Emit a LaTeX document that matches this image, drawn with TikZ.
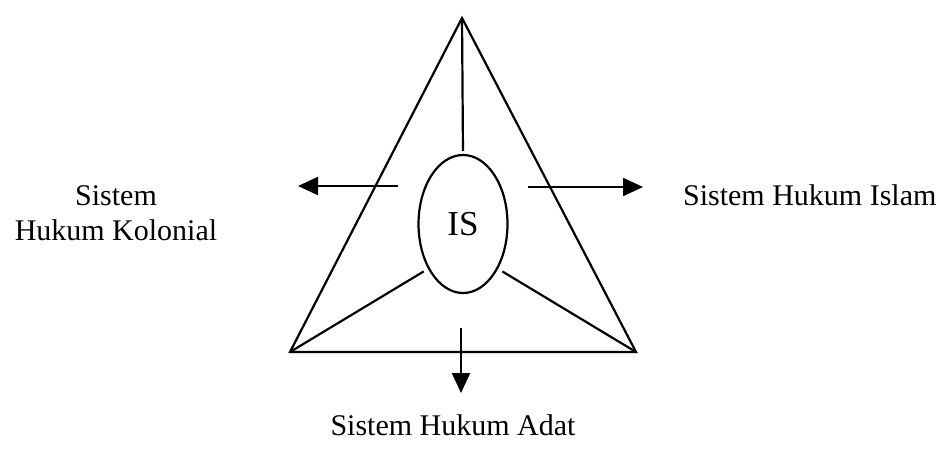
\documentclass[tikz,border=0pt]{standalone}
\usepackage{fontspec}
\setmainfont{Liberation Serif}
\usetikzlibrary{arrows.meta,positioning,shapes.geometric}

\begin{document}
\begin{tikzpicture}[
  x=0.5pt,y=-0.5pt,line width=1.1pt,
  lbl/.style={font=\fontsize{15}{17.5}\selectfont,inner sep=0pt,align=center},
  arr/.style={-{Triangle[length=10pt,width=9pt]}},
  tie/.style={shorten >=2.5pt}
]
  \useasboundingbox (0,0) rectangle (940,471);
  % segitiga
  \coordinate (top) at (462,18);
  \coordinate (bl) at (290,352);
  \coordinate (br) at (636,352);
  \draw[line join=miter] (top) -- (bl) -- (br) -- cycle;
  % inti
  \node[ellipse,draw,minimum width=44.5pt,minimum height=69pt,inner sep=0pt,
        font=\fontsize{17.5}{20}\selectfont] (is) at (463,224) {IS};
  \draw[shorten >=1.5pt] (top) -- (is.north);
  \draw[tie] (bl) -- (is.232);
  \draw[tie] (br) -- (is.308);
  % label
  \node[lbl] (kol) at (116,213.5) {Sistem\\Hukum Kolonial};
  \node[lbl,anchor=base west] (isl) at (682,205) {Sistem Hukum Islam};
  \node[lbl,anchor=base] (adat) at (453,435) {Sistem Hukum Adat};
  % panah
  \coordinate (kolA) at (398,186);
  \coordinate (kolB) at (298,186);
  \coordinate (islA) at (528,187);
  \coordinate (islB) at (643,187);
  \coordinate (adatA) at (461,328);
  \coordinate (adatB) at (461,393);
  \draw[arr] (kolA) -- (kolB);
  \draw[arr] (islA) -- (islB);
  \draw[arr] (adatA) -- (adatB);
\end{tikzpicture}
\end{document}
